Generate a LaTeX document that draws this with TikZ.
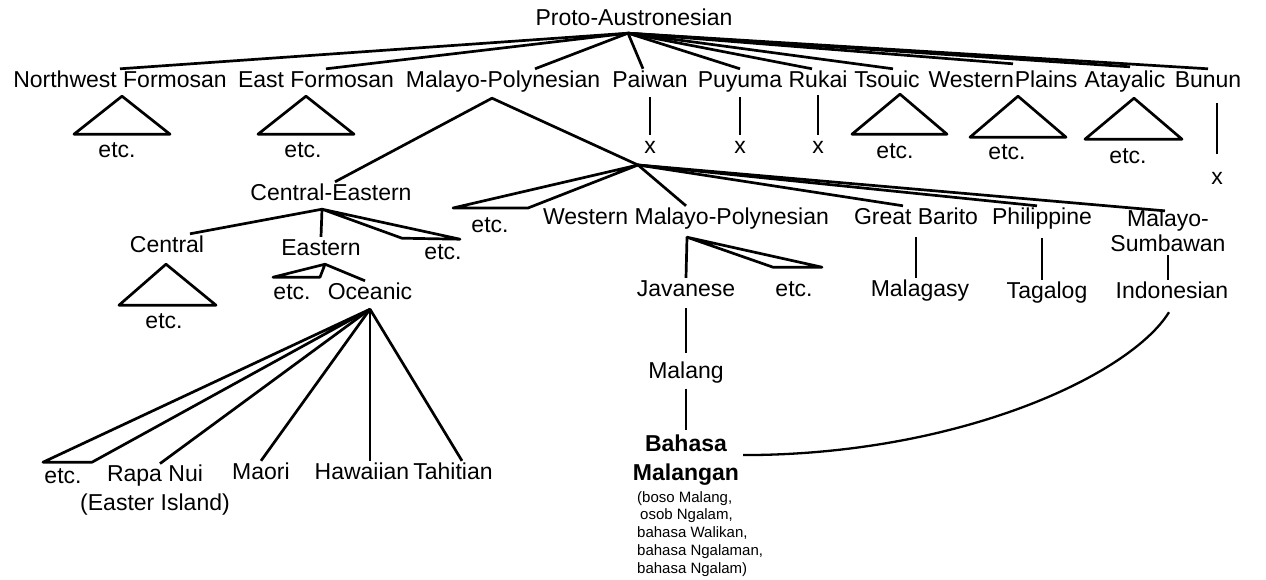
\documentclass[tikz,border=0pt]{standalone}
\usepackage{fontspec}
\setmainfont{Liberation Sans}
\usetikzlibrary{positioning}

\begin{document}
\begin{tikzpicture}[x=1pt,y=-1pt,
  lbl/.style={font=\fontsize{23}{25}\selectfont,inner sep=1pt,text height=17pt,text depth=5pt},
  two/.style={font=\fontsize{23}{29}\selectfont,inner sep=1pt,align=center},
  br/.style={line width=2.7pt,line join=round},node distance=42pt]
\useasboundingbox (0,0) rectangle (1266,579);
\node[lbl] (pan) at (634,19) {Proto-Austronesian};
\coordinate (pa) at ([xshift=-6pt,yshift=-2pt]pan.south);
\node[lbl] (nwf) at (120,81) {Northwest Formosan};
\node[lbl] (ef) at (316,81) {East Formosan};
\node[lbl] (mp) at (503,81) {Malayo-Polynesian};
\node[lbl] (pw) at (650,81) {Paiwan};
\node[lbl] (py) at (740,81) {Puyuma};
\node[lbl] (rk) at (818,81) {Rukai};
\node[lbl] (ts) at (887,81) {Tsouic};
\node[lbl] (wp) at (1003,81) {Western\hspace{1pt}Plains};
\node[lbl] (ata) at (1125,81) {Atayalic};
\node[lbl] (bn) at (1208,81) {Bunun};
\draw[br] (pa) -- (nwf.north);
\draw[br] (pa) -- ([xshift=10pt]ef.north);
\draw[br] (pa) -- ([xshift=32pt]mp.north);
\draw[br] (pa) -- ([xshift=-7pt]pw.north);
\draw[br] (pa) -- (py.north);
\draw[br] (pa) -- ([xshift=-6pt]rk.north);
\draw[br] (pa) -- ([xshift=6pt]ts.north);
\draw[br] (pa) -- ([xshift=10pt,yshift=5pt]wp.north);
\draw[br] (pa) -- ([xshift=5pt,yshift=2pt]ata.north);
\draw[br] (pa) -- (bn.north);
% subgroups shown as triangles
\draw[br] (nwf.south) ++(2,3) -- ++(-48,38) -- ++(96,0) -- cycle;
\node[lbl] (nwe) at (117,151) {etc.};
\draw[br] (ef.south) ++(-10,3) -- ++(-48,38) -- ++(96,0) -- cycle;
\node[lbl] (efe) at (303,151) {etc.};
\draw[br] (ts.south) ++(13,1) -- ++(-48,40) -- ++(95,0) -- cycle;
\node[lbl] (tse) at (895,152) {etc.};
\draw[br] (wp.south) ++(15,3) -- ++(-48,41) -- ++(96,0) -- cycle;
\node[lbl] (wpe) at (1007,153) {etc.};
\draw[br] (ata.south) ++(9,5) -- ++(-49,41) -- ++(97,0) -- cycle;
\node[lbl] (atae) at (1128,157) {etc.};
\node[lbl,below=of pw] (xpw) {x};
\draw[br] ([yshift=-4pt]pw.south) -- (xpw);
\node[lbl,below=of py] (xpy) {x};
\draw[br] ([yshift=-4pt]py.south) -- (xpy);
\node[lbl,below=of rk] (xrk) {x};
\draw[br] ([yshift=-2pt]rk.south) -- (xrk);
\node[lbl] (xbn) at (1217,178) {x};
\draw[br] ([xshift=9pt,yshift=-10pt]bn.south) -- ([yshift=12pt]xbn.north);
% Malayo-Polynesian
\coordinate (mpb) at ([xshift=-11pt,yshift=-5pt]mp.south);
\node[lbl] (ce) at (331,194) {Central-Eastern};
\coordinate (j2) at (638,165);
\draw[br] ([xshift=4pt]ce.north) -- (mpb) -- (j2);
\draw[br] (j2) -- ++(-185,43) -- ++(75,0) -- cycle;
\node[lbl] (etcw) at (490,226) {etc.};
\node[lbl] (wmp) at (686,218) {Western Malayo-Polynesian};
\node[lbl] (gb) at (916,218) {Great Barito};
\node[lbl] (ph) at (1042,218) {Philippine};
\node[two,font=\fontsize{23}{25}\selectfont] (ms) at (1168,231) {Malayo-\\Sumbawan};
\draw[br] (j2) -- (wmp.north);
\draw[br] (j2) -- ([xshift=-13pt]gb.north);
\draw[br] (j2) -- ([xshift=-5pt]ph.north);
\draw[br] (j2) -- ([xshift=-3pt,yshift=-2pt]ms.north);
\coordinate (wmpb) at ([xshift=1pt,yshift=-7pt]wmp.south);
\node[lbl] (jv) at (686,290) {Javanese};
\draw[br] (wmpb) -- (jv.north);
\draw[br] (wmpb) -- ++(86,30) -- ++(49,0) -- cycle;
\node[lbl] (etcj) at (794,290) {etc.};
\node[lbl] (mg) at (920,290) {Malagasy};
\node[lbl] (tg) at (1047,292) {Tagalog};
\node[lbl] (ind) at (1172,292) {Indonesian};
\draw[br,shorten <=7pt] (gb.south) -- (gb.south |- mg.north);
\draw[br,shorten <=8pt] (ph.south) -- (ph.south |- tg.north);
\draw[br,shorten <=2pt] (ms.south) -- (ms.south |- ind.north);
\node[lbl,below=58pt of jv] (mlg) {Malang};
\draw[br,shorten <=6pt,shorten >=7pt] (jv) -- (mlg);
\node[font=\bfseries\fontsize{23}{29}\selectfont,align=center,inner sep=1pt,below=49pt of mlg] (bm) {Bahasa\\Malangan};
\draw[br,shorten <=4pt,shorten >=4pt] (mlg) -- (bm);
\node[font=\fontsize{15}{17.75}\selectfont,align=left,inner sep=1pt,anchor=north west] (bmn) at (636,490)
  {(boso Malang,\\\hspace*{3pt}osob Ngalam,\\bahasa Walikan,\\bahasa Ngalaman,\\bahasa Ngalam)};
\draw[line width=2.3pt] ([xshift=3pt,yshift=5pt]bm.east) .. controls +(216,0) and +(-39,63) .. ([xshift=-3pt,yshift=-8pt]ind.south);
% Central-Eastern
\coordinate (ceb) at ([xshift=-9pt,yshift=-3pt]ce.south);
\node[lbl] (ct) at (167,246) {Central};
\node[lbl] (es) at (321,249) {Eastern};
\draw[br] ([xshift=23pt]ct.north) -- (ceb) -- (es.north);
\draw[br] (ceb) -- ++(80,29) -- ++(58,1) -- cycle;
\node[lbl] (etce) at (443,253) {etc.};
\draw[br] (ct.south) ++(-1,6) -- ++(-47,41) -- ++(97,0) -- cycle;
\node[lbl] (etcc) at (164,322) {etc.};
\coordinate (esb) at ([xshift=4pt,yshift=-3pt]es.south);
\draw[br] (esb) -- ++(-52,13) -- ++(47,0) -- cycle;
\node[lbl] (etco) at (292,293) {etc.};
\node[lbl] (oc) at (370,293) {Oceanic};
\draw[br] (esb) -- ([xshift=-5pt]oc.north);
\coordinate (ocb) at ([yshift=-4pt]oc.south);
\draw[br] (ocb) -- ++(-327,153) -- ++(49,0) -- cycle;
\node[lbl] (etcp) at (63,477) {etc.};
\node[two] (rn) at (155,490) {Rapa Nui\\(Easter Island)};
\node[lbl] (mo) at (261,473) {Maori};
\node[lbl] (hw) at (362,473) {Hawaiian};
\node[lbl] (th) at (453,473) {Tahitian};
\draw[br] (ocb) -- ([xshift=5pt]rn.north);
\draw[br] (ocb) -- (mo.north);
\draw[br] (ocb) -- ([xshift=8pt]hw.north);
\draw[br] (ocb) -- ([xshift=9pt]th.north);
\end{tikzpicture}
\end{document}
